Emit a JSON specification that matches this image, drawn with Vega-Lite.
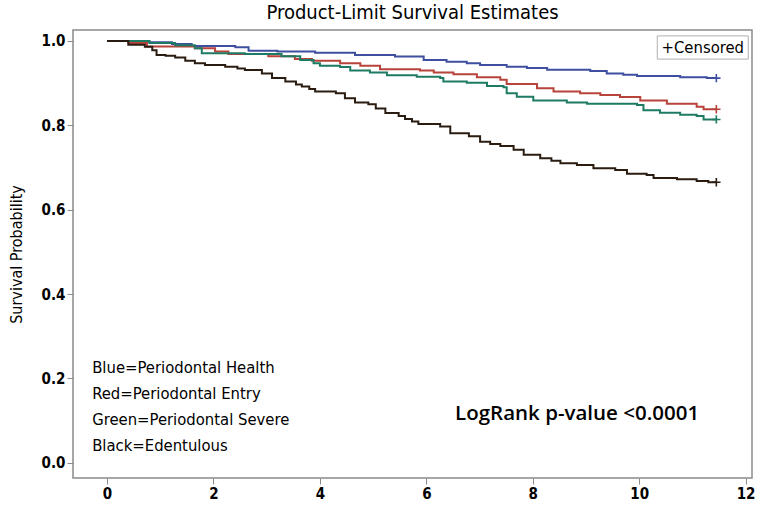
{
  "$schema": "https://vega.github.io/schema/vega-lite/v6.json",
  "width": 679,
  "height": 448,
  "autosize": "none",
  "padding": {"left": 73, "top": 30, "right": 7, "bottom": 27},
  "background": "white",
  "title": {"text": "Product-Limit Survival Estimates", "font": "'DejaVu Sans Condensed', 'Liberation Sans', sans-serif", "fontSize": 20, "fontWeight": "normal", "color": "#000", "anchor": "middle", "offset": 7},
  "config": {
    "view": {"stroke": "#8a8a8a", "strokeWidth": 1.5},
    "axis": {"grid": false, "domain": false, "tickColor": "#8a8a8a", "tickSize": 6, "labelFont": "'DejaVu Sans Condensed', 'Liberation Sans', sans-serif", "labelFontWeight": "bold", "labelFontSize": 15, "labelColor": "#000", "titleFont": "'DejaVu Sans Condensed', 'Liberation Sans', sans-serif", "titleFontWeight": "normal", "titleFontSize": 16, "titleColor": "#000"}
  },
  "datasets": {
    "km": [
      {"group": "Blue", "t": 0, "S": 1.0}, {"group": "Blue", "t": 0.6, "S": 0.997}, {"group": "Blue", "t": 1.22, "S": 0.993}, {"group": "Blue", "t": 1.59, "S": 0.988}, {"group": "Blue", "t": 2.41, "S": 0.985}, {"group": "Blue", "t": 2.66, "S": 0.977}, {"group": "Blue", "t": 3.2, "S": 0.975}, {"group": "Blue", "t": 3.91, "S": 0.972}, {"group": "Blue", "t": 4.66, "S": 0.967}, {"group": "Blue", "t": 5.41, "S": 0.963}, {"group": "Blue", "t": 5.95, "S": 0.955}, {"group": "Blue", "t": 6.38, "S": 0.951}, {"group": "Blue", "t": 6.76, "S": 0.947}, {"group": "Blue", "t": 7.01, "S": 0.943}, {"group": "Blue", "t": 7.51, "S": 0.939}, {"group": "Blue", "t": 7.89, "S": 0.936}, {"group": "Blue", "t": 8.27, "S": 0.932}, {"group": "Blue", "t": 9.08, "S": 0.929}, {"group": "Blue", "t": 9.39, "S": 0.923}, {"group": "Blue", "t": 9.7, "S": 0.92}, {"group": "Blue", "t": 9.96, "S": 0.917}, {"group": "Blue", "t": 10.77, "S": 0.914}, {"group": "Blue", "t": 11.27, "S": 0.912}, {"group": "Blue", "t": 11.45, "S": 0.912},
      {"group": "Red", "t": 0, "S": 1.0}, {"group": "Red", "t": 0.4, "S": 0.995}, {"group": "Red", "t": 0.75, "S": 0.987}, {"group": "Red", "t": 1.65, "S": 0.983}, {"group": "Red", "t": 2.03, "S": 0.975}, {"group": "Red", "t": 2.28, "S": 0.969}, {"group": "Red", "t": 3.03, "S": 0.964}, {"group": "Red", "t": 3.53, "S": 0.957}, {"group": "Red", "t": 3.85, "S": 0.953}, {"group": "Red", "t": 4.38, "S": 0.947}, {"group": "Red", "t": 4.76, "S": 0.941}, {"group": "Red", "t": 5.13, "S": 0.933}, {"group": "Red", "t": 5.88, "S": 0.93}, {"group": "Red", "t": 6.14, "S": 0.925}, {"group": "Red", "t": 6.51, "S": 0.921}, {"group": "Red", "t": 6.95, "S": 0.914}, {"group": "Red", "t": 7.39, "S": 0.908}, {"group": "Red", "t": 7.51, "S": 0.898}, {"group": "Red", "t": 8.08, "S": 0.888}, {"group": "Red", "t": 8.39, "S": 0.88}, {"group": "Red", "t": 8.89, "S": 0.876}, {"group": "Red", "t": 9.27, "S": 0.872}, {"group": "Red", "t": 9.64, "S": 0.867}, {"group": "Red", "t": 10.02, "S": 0.859}, {"group": "Red", "t": 10.52, "S": 0.851}, {"group": "Red", "t": 11.08, "S": 0.844}, {"group": "Red", "t": 11.21, "S": 0.838}, {"group": "Red", "t": 11.45, "S": 0.838},
      {"group": "Green", "t": 0, "S": 1.0}, {"group": "Green", "t": 0.8, "S": 0.995}, {"group": "Green", "t": 1.28, "S": 0.99}, {"group": "Green", "t": 1.65, "S": 0.983}, {"group": "Green", "t": 1.78, "S": 0.971}, {"group": "Green", "t": 2.59, "S": 0.969}, {"group": "Green", "t": 3.28, "S": 0.964}, {"group": "Green", "t": 3.63, "S": 0.955}, {"group": "Green", "t": 3.88, "S": 0.947}, {"group": "Green", "t": 4.0, "S": 0.941}, {"group": "Green", "t": 4.38, "S": 0.938}, {"group": "Green", "t": 4.57, "S": 0.93}, {"group": "Green", "t": 4.94, "S": 0.925}, {"group": "Green", "t": 5.26, "S": 0.919}, {"group": "Green", "t": 5.82, "S": 0.915}, {"group": "Green", "t": 6.26, "S": 0.912}, {"group": "Green", "t": 6.32, "S": 0.904}, {"group": "Green", "t": 6.76, "S": 0.901}, {"group": "Green", "t": 7.14, "S": 0.893}, {"group": "Green", "t": 7.45, "S": 0.89}, {"group": "Green", "t": 7.51, "S": 0.876}, {"group": "Green", "t": 7.7, "S": 0.868}, {"group": "Green", "t": 8.01, "S": 0.859}, {"group": "Green", "t": 8.64, "S": 0.854}, {"group": "Green", "t": 9.02, "S": 0.851}, {"group": "Green", "t": 9.96, "S": 0.848}, {"group": "Green", "t": 10.08, "S": 0.836}, {"group": "Green", "t": 10.39, "S": 0.83}, {"group": "Green", "t": 10.77, "S": 0.825}, {"group": "Green", "t": 11.08, "S": 0.822}, {"group": "Green", "t": 11.21, "S": 0.814}, {"group": "Green", "t": 11.45, "S": 0.814},
      {"group": "Black", "t": 0, "S": 1.0}, {"group": "Black", "t": 0.4, "S": 0.991}, {"group": "Black", "t": 0.71, "S": 0.986}, {"group": "Black", "t": 0.85, "S": 0.978}, {"group": "Black", "t": 0.93, "S": 0.967}, {"group": "Black", "t": 1.1, "S": 0.965}, {"group": "Black", "t": 1.28, "S": 0.961}, {"group": "Black", "t": 1.47, "S": 0.953}, {"group": "Black", "t": 1.65, "S": 0.947}, {"group": "Black", "t": 1.84, "S": 0.943}, {"group": "Black", "t": 2.22, "S": 0.939}, {"group": "Black", "t": 2.45, "S": 0.935}, {"group": "Black", "t": 2.59, "S": 0.931}, {"group": "Black", "t": 2.91, "S": 0.923}, {"group": "Black", "t": 3.1, "S": 0.912}, {"group": "Black", "t": 3.35, "S": 0.904}, {"group": "Black", "t": 3.55, "S": 0.897}, {"group": "Black", "t": 3.66, "S": 0.892}, {"group": "Black", "t": 3.8, "S": 0.886}, {"group": "Black", "t": 3.91, "S": 0.88}, {"group": "Black", "t": 4.3, "S": 0.876}, {"group": "Black", "t": 4.47, "S": 0.864}, {"group": "Black", "t": 4.66, "S": 0.854}, {"group": "Black", "t": 4.91, "S": 0.85}, {"group": "Black", "t": 5.05, "S": 0.84}, {"group": "Black", "t": 5.23, "S": 0.829}, {"group": "Black", "t": 5.48, "S": 0.822}, {"group": "Black", "t": 5.6, "S": 0.815}, {"group": "Black", "t": 5.73, "S": 0.809}, {"group": "Black", "t": 5.85, "S": 0.803}, {"group": "Black", "t": 6.26, "S": 0.797}, {"group": "Black", "t": 6.45, "S": 0.781}, {"group": "Black", "t": 6.8, "S": 0.774}, {"group": "Black", "t": 7.01, "S": 0.761}, {"group": "Black", "t": 7.2, "S": 0.756}, {"group": "Black", "t": 7.39, "S": 0.751}, {"group": "Black", "t": 7.64, "S": 0.742}, {"group": "Black", "t": 7.83, "S": 0.73}, {"group": "Black", "t": 8.14, "S": 0.722}, {"group": "Black", "t": 8.35, "S": 0.716}, {"group": "Black", "t": 8.52, "S": 0.71}, {"group": "Black", "t": 8.83, "S": 0.706}, {"group": "Black", "t": 9.14, "S": 0.698}, {"group": "Black", "t": 9.55, "S": 0.694}, {"group": "Black", "t": 9.77, "S": 0.685}, {"group": "Black", "t": 10.14, "S": 0.682}, {"group": "Black", "t": 10.27, "S": 0.675}, {"group": "Black", "t": 10.71, "S": 0.672}, {"group": "Black", "t": 11.08, "S": 0.668}, {"group": "Black", "t": 11.3, "S": 0.665}, {"group": "Black", "t": 11.45, "S": 0.665}
    ],
    "cens": [
      {"group": "Blue", "t": 11.45, "S": 0.912},
      {"group": "Red", "t": 11.45, "S": 0.838},
      {"group": "Green", "t": 11.45, "S": 0.814},
      {"group": "Black", "t": 11.45, "S": 0.665}
    ],
    "box": [{"t": 10.34, "t2": 12.05, "S": 1.012, "S2": 0.957, "label": "+Censored"}],
    "notes": [
      {"t": -0.28, "S": 0.225, "label": "Blue=Periodontal Health"},
      {"t": -0.28, "S": 0.1635, "label": "Red=Periodontal Entry"},
      {"t": -0.28, "S": 0.102, "label": "Green=Periodontal Severe"},
      {"t": -0.28, "S": 0.040, "label": "Black=Edentulous"}
    ],
    "logrank": [{"t": 6.54, "S": 0.116, "label": "LogRank p-value <0.0001"}]
  },
  "layer": [
    {
      "data": {"name": "km"},
      "mark": {"type": "line", "interpolate": "step-after", "strokeWidth": 2},
      "encoding": {
        "x": {"field": "t", "type": "quantitative", "title": null, "scale": {"domain": [-0.64, 12.12], "nice": false, "zero": false}, "axis": {"values": [0, 2, 4, 6, 8, 10, 12], "format": "d"}},
        "y": {"field": "S", "type": "quantitative", "title": "Survival Probability", "scale": {"domain": [-0.036, 1.026], "nice": false, "zero": false}, "axis": {"values": [0, 0.2, 0.4, 0.6, 0.8, 1.0], "format": ".1f", "titlePadding": 17}},
        "color": {"field": "group", "type": "nominal", "legend": null, "scale": {"domain": ["Blue", "Red", "Green", "Black"], "range": ["#3f4fa0", "#b8433a", "#1e7b63", "#2a1c10"]}},
        "detail": {"field": "group"}
      }
    },
    {
      "data": {"name": "cens"},
      "mark": {"type": "point", "shape": "M-1,0L1,0M0,-1L0,1", "size": 70, "strokeWidth": 1.6, "filled": false, "opacity": 1},
      "encoding": {
        "x": {"field": "t", "type": "quantitative", "title": null},
        "y": {"field": "S", "type": "quantitative", "title": "Survival Probability"},
        "color": {"field": "group", "type": "nominal", "legend": null}
      }
    },
    {
      "data": {"name": "box"},
      "mark": {"type": "rect", "fill": "white", "stroke": "#b0b0b0", "strokeWidth": 1},
      "encoding": {
        "x": {"field": "t", "type": "quantitative", "title": null},
        "x2": {"field": "t2"},
        "y": {"field": "S", "type": "quantitative", "title": "Survival Probability"},
        "y2": {"field": "S2"}
      }
    },
    {
      "data": {"name": "box"},
      "mark": {"type": "text", "align": "center", "baseline": "middle", "font": "'DejaVu Sans Condensed', 'Liberation Sans', sans-serif", "fontSize": 16.5, "color": "#000"},
      "encoding": {
        "x": {"datum": 11.195, "type": "quantitative"},
        "y": {"datum": 0.9845, "type": "quantitative"},
        "text": {"field": "label"}
      }
    },
    {
      "data": {"name": "notes"},
      "mark": {"type": "text", "align": "left", "baseline": "middle", "font": "'DejaVu Sans Condensed', 'Liberation Sans', sans-serif", "fontSize": 16.5, "color": "#000"},
      "encoding": {
        "x": {"field": "t", "type": "quantitative", "title": null},
        "y": {"field": "S", "type": "quantitative", "title": "Survival Probability"},
        "text": {"field": "label"}
      }
    },
    {
      "data": {"name": "logrank"},
      "mark": {"type": "text", "align": "left", "baseline": "middle", "font": "Open Sans", "fontWeight": 600, "fontSize": 20.5, "color": "#000"},
      "encoding": {
        "x": {"field": "t", "type": "quantitative", "title": null},
        "y": {"field": "S", "type": "quantitative", "title": "Survival Probability"},
        "text": {"field": "label"}
      }
    }
  ]
}
